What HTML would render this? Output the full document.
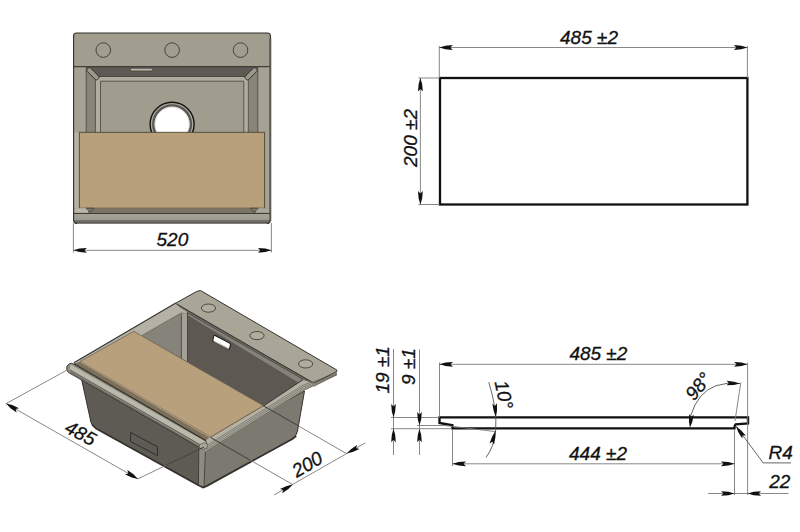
<!DOCTYPE html>
<html><head><meta charset="utf-8"><style>
html,body{margin:0;padding:0;background:#fff;}
svg{display:block;}
text{font-family:"Liberation Sans",sans-serif;font-style:italic;fill:#111;stroke:#111;stroke-width:0.3px;}
</style></head><body>
<svg width="800" height="532" viewBox="0 0 800 532">
<g id="plan">
<defs><linearGradient id="frim" x1="0" y1="0" x2="0" y2="1"><stop offset="0" stop-color="#a5a297"/><stop offset="0.6" stop-color="#9e9b91"/><stop offset="0.64" stop-color="#75726a"/><stop offset="1" stop-color="#6a6760"/></linearGradient></defs>
<rect x="73.5" y="33" width="197" height="190" rx="3" fill="#a19e90"/>
<rect x="74.2" y="67" width="12" height="146" fill="#a5a295"/>
<rect x="258" y="67" width="12.2" height="146" fill="#a5a295"/>
<rect x="86.2" y="67" width="9.2" height="146" fill="#87847a"/>
<rect x="248.3" y="67" width="9.5" height="146" fill="#87847a"/>
<rect x="95.4" y="76.5" width="5" height="137" fill="#b1aea1"/>
<rect x="243.8" y="76.5" width="4.5" height="137" fill="#b1aea1"/>
<rect x="95.4" y="76.5" width="152.9" height="4.7" fill="#aeab9e"/>
<polygon points="86.2,66.8 257.8,66.8 248.3,76.5 95.4,76.5" fill="#5e5a53"/>
<rect x="100.5" y="81.2" width="143.3" height="132" fill="#a09d8f"/>
<line x1="86.2" y1="67" x2="86.2" y2="213" stroke="#45433d" stroke-width="0.8"/>
<line x1="95.4" y1="78.5" x2="95.4" y2="213" stroke="#45433d" stroke-width="0.8"/>
<line x1="100.5" y1="81.2" x2="100.5" y2="213" stroke="#45433d" stroke-width="0.8"/>
<line x1="243.8" y1="81.2" x2="243.8" y2="213" stroke="#45433d" stroke-width="0.8"/>
<line x1="248.3" y1="78.5" x2="248.3" y2="213" stroke="#45433d" stroke-width="0.8"/>
<line x1="257.8" y1="67" x2="257.8" y2="213" stroke="#45433d" stroke-width="0.8"/>
<line x1="73.5" y1="66.6" x2="270.5" y2="66.6" stroke="#3f3d38" stroke-width="1.4"/>
<line x1="95.4" y1="76.5" x2="248.3" y2="76.5" stroke="#45433d" stroke-width="0.9"/>
<line x1="100.5" y1="81.2" x2="243.8" y2="81.2" stroke="#45433d" stroke-width="0.8"/>
<rect x="-7.4" y="-2.4" width="14.8" height="4.8" rx="1.8" fill="#9a978b" stroke="#2f2e2a" stroke-width="0.9" transform="translate(92.9 73.7) rotate(45)"/>
<rect x="-7.4" y="-2.4" width="14.8" height="4.8" rx="1.8" fill="#9a978b" stroke="#2f2e2a" stroke-width="0.9" transform="translate(251.1 73.7) rotate(-45)"/>
<rect x="130.5" y="68.3" width="22" height="2.6" rx="1.3" fill="#b9b6aa" stroke="#3a3833" stroke-width="0.6"/>
<circle cx="172.1" cy="124.2" r="22" fill="#adaba3" stroke="#141311" stroke-width="1.4"/>
<circle cx="172.1" cy="124.2" r="18.8" fill="none" stroke="#5a5853" stroke-width="2.4"/>
<circle cx="172.1" cy="124.2" r="17.2" fill="#ffffff" stroke="#d8d6d0" stroke-width="0.8"/>
<circle cx="103.3" cy="50.1" r="7.3" fill="none" stroke="#3b3a35" stroke-width="0.9"/>
<circle cx="172.1" cy="50.1" r="7.3" fill="none" stroke="#3b3a35" stroke-width="0.9"/>
<circle cx="240.5" cy="50.1" r="7.3" fill="none" stroke="#3b3a35" stroke-width="0.9"/>
<rect x="74.2" y="132.3" width="5.2" height="76" fill="#b5b2a6"/>
<rect x="79.3" y="132.3" width="185.3" height="75.9" fill="#b8a07b" stroke="#4d4536" stroke-width="0.9"/>
<rect x="74.2" y="208.2" width="196" height="5.2" fill="#7b7464"/>
<rect x="74.2" y="208.2" width="14" height="4.6" fill="#b8b5a9"/>
<rect x="256" y="208.2" width="14" height="4.6" fill="#a9a69a"/>
<polygon points="86,208.2 94,208.2 90.2,212.3" fill="#7a776d" stroke="#34322d" stroke-width="0.6"/>
<polygon points="250.3,208.2 258.3,208.2 254.2,212.3" fill="#7a776d" stroke="#34322d" stroke-width="0.6"/>
<line x1="73.5" y1="213.5" x2="270.5" y2="213.5" stroke="#3d3b36" stroke-width="1.1"/>
<path d="M73.6,214 L270.4,214 L270.4,220 Q270.4,223.4 267,223.4 L77,223.4 Q73.6,223.4 73.6,220 Z" fill="url(#frim)"/>
<line x1="75" y1="223" x2="269" y2="223" stroke="#4a4842" stroke-width="0.9"/>
<path d="M73.6,213 L73.6,36 Q73.6,33 76.6,33 L267.4,33 Q270.4,33 270.4,36 L270.4,213" fill="none" stroke="#2f2e2a" stroke-width="1.1"/>
<path d="M73.6,213 L73.6,220 Q73.6,223.4 77,223.4" fill="none" stroke="#2f2e2a" stroke-width="1.1"/>
<path d="M270.4,213 L270.4,220 Q270.4,223.4 267,223.4" fill="none" stroke="#2f2e2a" stroke-width="1.1"/>
<line x1="270.3" y1="38" x2="270.3" y2="221" stroke="#5a5852" stroke-width="2.0"/>
</g>
<line x1="73.4" y1="223" x2="73.4" y2="252.5" stroke="#7a7a7a" stroke-width="0.9"/>
<line x1="271.4" y1="223" x2="271.4" y2="252.5" stroke="#7a7a7a" stroke-width="0.9"/>
<line x1="73.4" y1="250.3" x2="271.4" y2="250.3" stroke="#7a7a7a" stroke-width="0.9"/>
<polygon points="73.40,250.30 79.48,248.54 86.90,247.88 84.47,250.30 86.90,252.72 79.48,252.06" fill="#111"/>
<polygon points="271.40,250.30 265.32,252.06 257.90,252.72 260.33,250.30 257.90,247.88 265.32,248.54" fill="#111"/>
<text x="156.5" y="246" font-size="19" text-anchor="start">520</text>
<rect x="440" y="78" width="307.4" height="126.5" fill="none" stroke="#111" stroke-width="2.3"/>
<line x1="439.3" y1="46" x2="439.3" y2="78" stroke="#7a7a7a" stroke-width="0.9"/>
<line x1="747.4" y1="46" x2="747.4" y2="78" stroke="#7a7a7a" stroke-width="0.9"/>
<line x1="439.3" y1="47.5" x2="747.4" y2="47.5" stroke="#7a7a7a" stroke-width="0.9"/>
<polygon points="439.30,47.50 445.38,45.74 452.80,45.08 450.37,47.50 452.80,49.92 445.38,49.26" fill="#111"/>
<polygon points="747.40,47.50 741.32,49.26 733.90,49.92 736.33,47.50 733.90,45.08 741.32,45.74" fill="#111"/>
<text x="560" y="43.8" font-size="19" text-anchor="start">485 ±2</text>
<line x1="418.4" y1="78" x2="439.5" y2="78" stroke="#7a7a7a" stroke-width="0.9"/>
<line x1="418.4" y1="204.5" x2="439.5" y2="204.5" stroke="#7a7a7a" stroke-width="0.9"/>
<line x1="420.4" y1="78" x2="420.4" y2="204.5" stroke="#7a7a7a" stroke-width="0.9"/>
<polygon points="420.40,78.00 422.16,84.08 422.82,91.50 420.40,89.07 417.98,91.50 418.64,84.08" fill="#111"/>
<polygon points="420.40,204.50 418.64,198.43 417.98,191.00 420.40,193.43 422.82,191.00 422.16,198.43" fill="#111"/>
<text x="416.5" y="167" font-size="19" text-anchor="start" transform="rotate(-90 416.5 167)">200 ±2</text>
<path d="M439.5,417.4 L748,417.4 L748,423.4 L735.6,424.4 Q734.4,425.4 734.4,428.4 L452.4,428.4 L452.4,425.2 L439.5,423 Z" fill="none" stroke="#111" stroke-width="2.4" stroke-linejoin="miter"/>
<line x1="439.5" y1="362.5" x2="439.5" y2="417" stroke="#7a7a7a" stroke-width="0.9"/>
<line x1="747.6" y1="362.5" x2="747.6" y2="495" stroke="#7a7a7a" stroke-width="0.9"/>
<line x1="452.5" y1="429" x2="452.5" y2="466" stroke="#7a7a7a" stroke-width="0.9"/>
<line x1="734.5" y1="429" x2="734.5" y2="495" stroke="#7a7a7a" stroke-width="0.9"/>
<line x1="439.5" y1="364.3" x2="747.6" y2="364.3" stroke="#7a7a7a" stroke-width="0.9"/>
<polygon points="439.50,364.30 445.57,362.54 453.00,361.88 450.57,364.30 453.00,366.72 445.57,366.06" fill="#111"/>
<polygon points="747.60,364.30 741.52,366.06 734.10,366.72 736.53,364.30 734.10,361.88 741.52,362.54" fill="#111"/>
<text x="569.4" y="360" font-size="19" text-anchor="start">485 ±2</text>
<line x1="452.5" y1="463.8" x2="734.5" y2="463.8" stroke="#7a7a7a" stroke-width="0.9"/>
<polygon points="452.50,463.80 458.57,462.04 466.00,461.38 463.57,463.80 466.00,466.22 458.57,465.56" fill="#111"/>
<polygon points="734.50,463.80 728.42,465.56 721.00,466.22 723.43,463.80 721.00,461.38 728.42,462.04" fill="#111"/>
<text x="569" y="460" font-size="19" text-anchor="start">444 ±2</text>
<line x1="391" y1="417.5" x2="439.5" y2="417.5" stroke="#7a7a7a" stroke-width="0.9"/>
<line x1="417" y1="425.5" x2="445" y2="425.5" stroke="#7a7a7a" stroke-width="0.9"/>
<line x1="391" y1="428.7" x2="452" y2="428.7" stroke="#7a7a7a" stroke-width="0.9"/>
<line x1="393.5" y1="349" x2="393.5" y2="455" stroke="#7a7a7a" stroke-width="0.9"/>
<polygon points="393.50,417.50 391.82,411.43 391.19,404.00 393.50,406.43 395.81,404.00 395.18,411.43" fill="#111"/>
<polygon points="393.50,428.70 395.18,434.77 395.81,442.20 393.50,439.77 391.19,442.20 391.82,434.77" fill="#111"/>
<line x1="419.5" y1="349.5" x2="419.5" y2="455" stroke="#7a7a7a" stroke-width="0.9"/>
<polygon points="419.50,425.50 417.82,419.43 417.19,412.00 419.50,414.43 421.81,412.00 421.18,419.43" fill="#111"/>
<polygon points="419.50,428.70 421.18,434.77 421.81,442.20 419.50,439.77 417.19,442.20 417.82,434.77" fill="#111"/>
<text x="389.2" y="393.5" font-size="19" text-anchor="start" transform="rotate(-90 389.2 393.5)">19 ±1</text>
<text x="415.1" y="384.9" font-size="19" text-anchor="start" transform="rotate(-90 415.1 384.9)">9 ±1</text>
<line x1="445" y1="425.5" x2="495.5" y2="431.6" stroke="#7a7a7a" stroke-width="0.9"/>
<path d="M488.8,382.2 Q497.5,410 495.6,431 Q494,447 486,457.4" fill="none" stroke="#555" stroke-width="0.9"/>
<polygon points="495.90,417.00 493.67,411.11 492.35,403.77 494.88,405.98 496.95,403.34 497.01,410.80" fill="#111"/>
<polygon points="495.40,431.10 495.38,437.40 493.98,444.72 492.41,441.76 489.53,443.47 492.14,436.50" fill="#111"/>
<text x="494.5" y="382" font-size="19" text-anchor="start" transform="rotate(78 494.5 382)">10°</text>
<line x1="735" y1="421" x2="740.8" y2="382.5" stroke="#7a7a7a" stroke-width="0.9"/>
<path d="M690.5,416 Q698,392 716,385.7 Q727,382 740,383.5" fill="none" stroke="#555" stroke-width="0.9"/>
<polygon points="689.90,427.80 688.93,421.57 689.16,414.12 691.17,416.80 693.75,414.66 692.27,421.96" fill="#111"/>
<polygon points="740.00,383.60 733.86,385.02 726.41,385.33 728.94,383.13 726.61,380.71 734.00,381.66" fill="#111"/>
<text x="694" y="401.5" font-size="19" text-anchor="start" transform="rotate(-50 694 401.5)">98°</text>
<polyline points="736,426.3 763.2,462.9 791,462.9" fill="none" stroke="#555" stroke-width="0.9"/>
<polygon points="736.00,426.30 740.98,430.16 745.93,435.73 742.63,435.17 742.23,438.50 738.29,432.17" fill="#111"/>
<text x="768.5" y="458.6" font-size="19" text-anchor="start">R4</text>
<line x1="708" y1="493.5" x2="788.5" y2="493.5" stroke="#7a7a7a" stroke-width="0.9"/>
<polygon points="734.50,493.50 728.42,495.18 721.00,495.81 723.43,493.50 721.00,491.19 728.42,491.82" fill="#111"/>
<polygon points="747.60,493.50 753.68,491.82 761.10,491.19 758.67,493.50 761.10,495.81 753.68,495.18" fill="#111"/>
<text x="769.2" y="488.3" font-size="19" text-anchor="start">22</text>
<g id="iso" stroke-linejoin="round">
<path d="M81.3,378 L205,446 L203,487.5 L96,428.5 Q92.2,426.5 91,422.5 Z" fill="#5e5b54" stroke="#34322d" stroke-width="1"/>
<path d="M205,446 L304.5,391 L297.5,431 Q296.5,436.5 292,439 L203,487.5 Z" fill="#7c7a70" stroke="#34322d" stroke-width="1"/>
<polygon points="198.80,447.00 206.00,447.00 204.50,487.50 198.40,485.50" fill="#8e8b82" stroke="none" stroke-width="0.9"/>
<polyline points="198.80,448.00 198.40,485.50" fill="none" stroke="#34322d" stroke-width="0.8"/>
<polyline points="205.50,448.00 204.00,487.50" fill="none" stroke="#34322d" stroke-width="0.8"/>
<polyline points="92.00,424.50 96.00,428.50 198.40,485.30 203.00,487.60 207.00,486.00 292.00,439.20 296.20,436.00" fill="none" stroke="#35332f" stroke-width="1.7"/>
<polygon points="142.00,335.50 183.40,311.60 187.50,313.00 187.50,362.20 133.80,331.30" fill="#86847a" stroke="none" stroke-width="0.9"/>
<polygon points="187.50,312.00 314.30,382.80 303.20,384.00 263.30,405.70 187.50,362.20" fill="#5d5952" stroke="none" stroke-width="0.9"/>
<polygon points="177.30,304.40 313.80,383.20 314.30,385.00 303.20,385.50 187.50,315.00 181.60,315.00" fill="#85827a" stroke="none" stroke-width="0.9"/>
<polygon points="181.40,314.20 187.50,312.90 187.50,362.20 181.40,358.70" fill="#a3a096" stroke="none" stroke-width="0.9"/>
<polyline points="181.40,314.20 181.40,358.70" fill="none" stroke="#34322d" stroke-width="0.7"/>
<polyline points="187.50,312.90 187.50,362.20" fill="none" stroke="#34322d" stroke-width="0.8"/>
<polygon points="73.90,362.70 175.80,302.90 178.00,304.60 187.50,311.50 187.50,313.00 181.60,312.70 142.00,335.50 133.80,331.30 79.90,361.20" fill="#b5b2a5" stroke="none" stroke-width="0.9"/>
<polyline points="73.90,362.70 175.80,303.00" fill="none" stroke="#34322d" stroke-width="1.1"/>
<polyline points="142.00,335.50 181.60,312.70" fill="none" stroke="#5f5c55" stroke-width="0.8"/>
<polyline points="143.50,337.30 181.40,315.50" fill="none" stroke="#8a877e" stroke-width="0.6"/>
<polygon points="175.50,303.30 196.50,291.50 200.50,290.50 336.80,370.00 336.80,371.50 313.80,383.20 177.30,304.40" fill="#a9a698" stroke="#34322d" stroke-width="1.0"/>
<polyline points="177.30,304.60 313.80,383.20" fill="none" stroke="#3a3833" stroke-width="0.8"/>
<polyline points="179.50,307.00 313.50,384.60" fill="none" stroke="#55524b" stroke-width="0.6"/>
<polyline points="186.50,312.20 303.50,379.50" fill="none" stroke="#3a3833" stroke-width="0.7"/>
<polyline points="336.80,372.00 313.80,384.50" fill="none" stroke="#6a675f" stroke-width="0.7"/>
<polyline points="336.80,374.20 313.80,386.60" fill="none" stroke="#6a675f" stroke-width="0.7"/>
<ellipse cx="208.5" cy="308.1" rx="7.1" ry="4.1" fill="#b0ad9f" stroke="#34322d" stroke-width="0.8"/>
<ellipse cx="257" cy="335.6" rx="7.1" ry="4.1" fill="#b0ad9f" stroke="#34322d" stroke-width="0.8"/>
<ellipse cx="305.6" cy="363.9" rx="7.1" ry="4.1" fill="#b0ad9f" stroke="#34322d" stroke-width="0.8"/>
<path d="M215,335.6 L229.6,343 Q230.8,343.8 230.5,345 L229.6,348.3 Q229.2,349.5 228,348.9 L213.6,341.6 Q212.6,341 212.9,339.8 L213.6,336.3 Q214,335.1 215,335.6 Z" fill="#ffffff" stroke="#1f1e1b" stroke-width="1.1"/>
<polyline points="214.00,341.20 228.60,348.60" fill="none" stroke="#b8b5a9" stroke-width="1.2"/>
<polygon points="203.80,442.30 210.60,437.00 263.30,405.70 303.20,379.30 314.30,382.80 336.80,371.50 336.80,375.20 303.20,391.00 205.50,452.00" fill="#b3b0a4" stroke="none" stroke-width="0.9"/>
<polyline points="210.60,437.40 263.30,406.10 303.20,379.50" fill="none" stroke="#2f2d29" stroke-width="1.0"/>
<polyline points="303.20,379.50 314.30,383.00" fill="none" stroke="#4a4741" stroke-width="0.7"/>
<polyline points="206.00,445.80 303.20,385.10 336.80,373.28" fill="none" stroke="#5f5c55" stroke-width="0.6"/>
<polyline points="206.00,447.60 303.20,386.90 336.80,373.82" fill="none" stroke="#5f5c55" stroke-width="0.6"/>
<polyline points="206.00,449.40 303.20,388.70 336.80,374.36" fill="none" stroke="#5f5c55" stroke-width="0.6"/>
<polyline points="206.00,451.20 303.20,390.50 336.80,374.90" fill="none" stroke="#4a4741" stroke-width="0.7"/>
<polyline points="314.30,383.00 336.80,371.60" fill="none" stroke="#3a3833" stroke-width="0.8"/>
<path d="M72,363.2 L206,440.8 L206.5,448 L201,448.5 L68.5,372.5 Q65.6,370 67,366 Q68.8,363 72,363.2 Z" fill="#8f8c82" stroke="#34322d" stroke-width="0.9"/>
<polygon points="70.50,364.50 206.00,442.00 205.50,447.20 69.50,369.50" fill="#bab7ab" stroke="none" stroke-width="0.9"/>
<polyline points="69.80,369.80 204.00,447.00" fill="none" stroke="#4a4741" stroke-width="0.7"/>
<polyline points="70.50,372.20 201.50,448.00" fill="none" stroke="#4a4741" stroke-width="0.6"/>
<polygon points="74.00,363.60 80.20,361.30 210.60,437.00 206.00,440.60" fill="#7d705b" stroke="none" stroke-width="0.9"/>
<polyline points="74.00,363.60 206.00,440.60" fill="none" stroke="#1f1e1b" stroke-width="0.9"/>
<polygon points="80.20,361.30 133.80,331.30 263.30,405.70 210.60,437.00" fill="#b9a07c" stroke="#5a4e3d" stroke-width="0.7"/>
<polyline points="80.80,362.00 210.40,437.60" fill="none" stroke="#d8c4a2" stroke-width="0.6"/>
<polyline points="210.60,437.80 263.30,406.50" fill="none" stroke="#d8c4a2" stroke-width="0.6"/>
<path d="M199.5,444.8 Q203.5,441.5 207.5,443.8 L207,448 Q203.5,450.5 199.2,448.3 Z" fill="#a9a69a" stroke="#4a4741" stroke-width="0.6"/>
<polygon points="130.70,432.50 157.50,446.80 157.50,455.70 130.40,441.40" fill="none" stroke="#2a2926" stroke-width="0.9"/>
</g>
<line x1="66.6" y1="370.3" x2="6.1" y2="403.6" stroke="#7a7a7a" stroke-width="0.9"/>
<line x1="204" y1="447" x2="137.9" y2="478.9" stroke="#7a7a7a" stroke-width="0.9"/>
<line x1="6.1" y1="403.6" x2="137.9" y2="478.9" stroke="#7a7a7a" stroke-width="0.9"/>
<polygon points="6.10,403.60 12.25,405.09 19.02,408.20 15.71,409.09 16.62,412.40 10.50,408.14" fill="#111"/>
<polygon points="137.90,478.90 131.75,477.41 124.98,474.30 128.29,473.41 127.38,470.10 133.50,474.36" fill="#111"/>
<text x="77.5" y="439" font-size="19" text-anchor="middle" transform="rotate(28 77.5 439)">485</text>
<line x1="204" y1="447" x2="165.6" y2="465.5" stroke="#2e2d2a" stroke-width="0.8"/>
<line x1="210.6" y1="437.5" x2="292.9" y2="484.6" stroke="#7a7a7a" stroke-width="0.9"/>
<line x1="263.3" y1="405.7" x2="346.5" y2="453.6" stroke="#7a7a7a" stroke-width="0.9"/>
<line x1="210.6" y1="437.5" x2="250.5" y2="460.3" stroke="#2e2d2a" stroke-width="0.8"/>
<line x1="263.3" y1="405.7" x2="298.5" y2="425.9" stroke="#2e2d2a" stroke-width="0.8"/>
<line x1="274.1" y1="495" x2="365.3" y2="442.9" stroke="#7a7a7a" stroke-width="0.9"/>
<polygon points="292.90,484.60 288.40,489.01 282.21,493.16 283.21,489.96 279.97,489.11 286.77,486.07" fill="#111"/>
<polygon points="346.50,453.60 350.95,449.13 357.09,444.91 356.12,448.12 359.38,448.93 352.61,452.06" fill="#111"/>
<text x="310.5" y="470" font-size="19" text-anchor="middle" transform="rotate(-30 310.5 470)">200</text>
</svg>
</body></html>
